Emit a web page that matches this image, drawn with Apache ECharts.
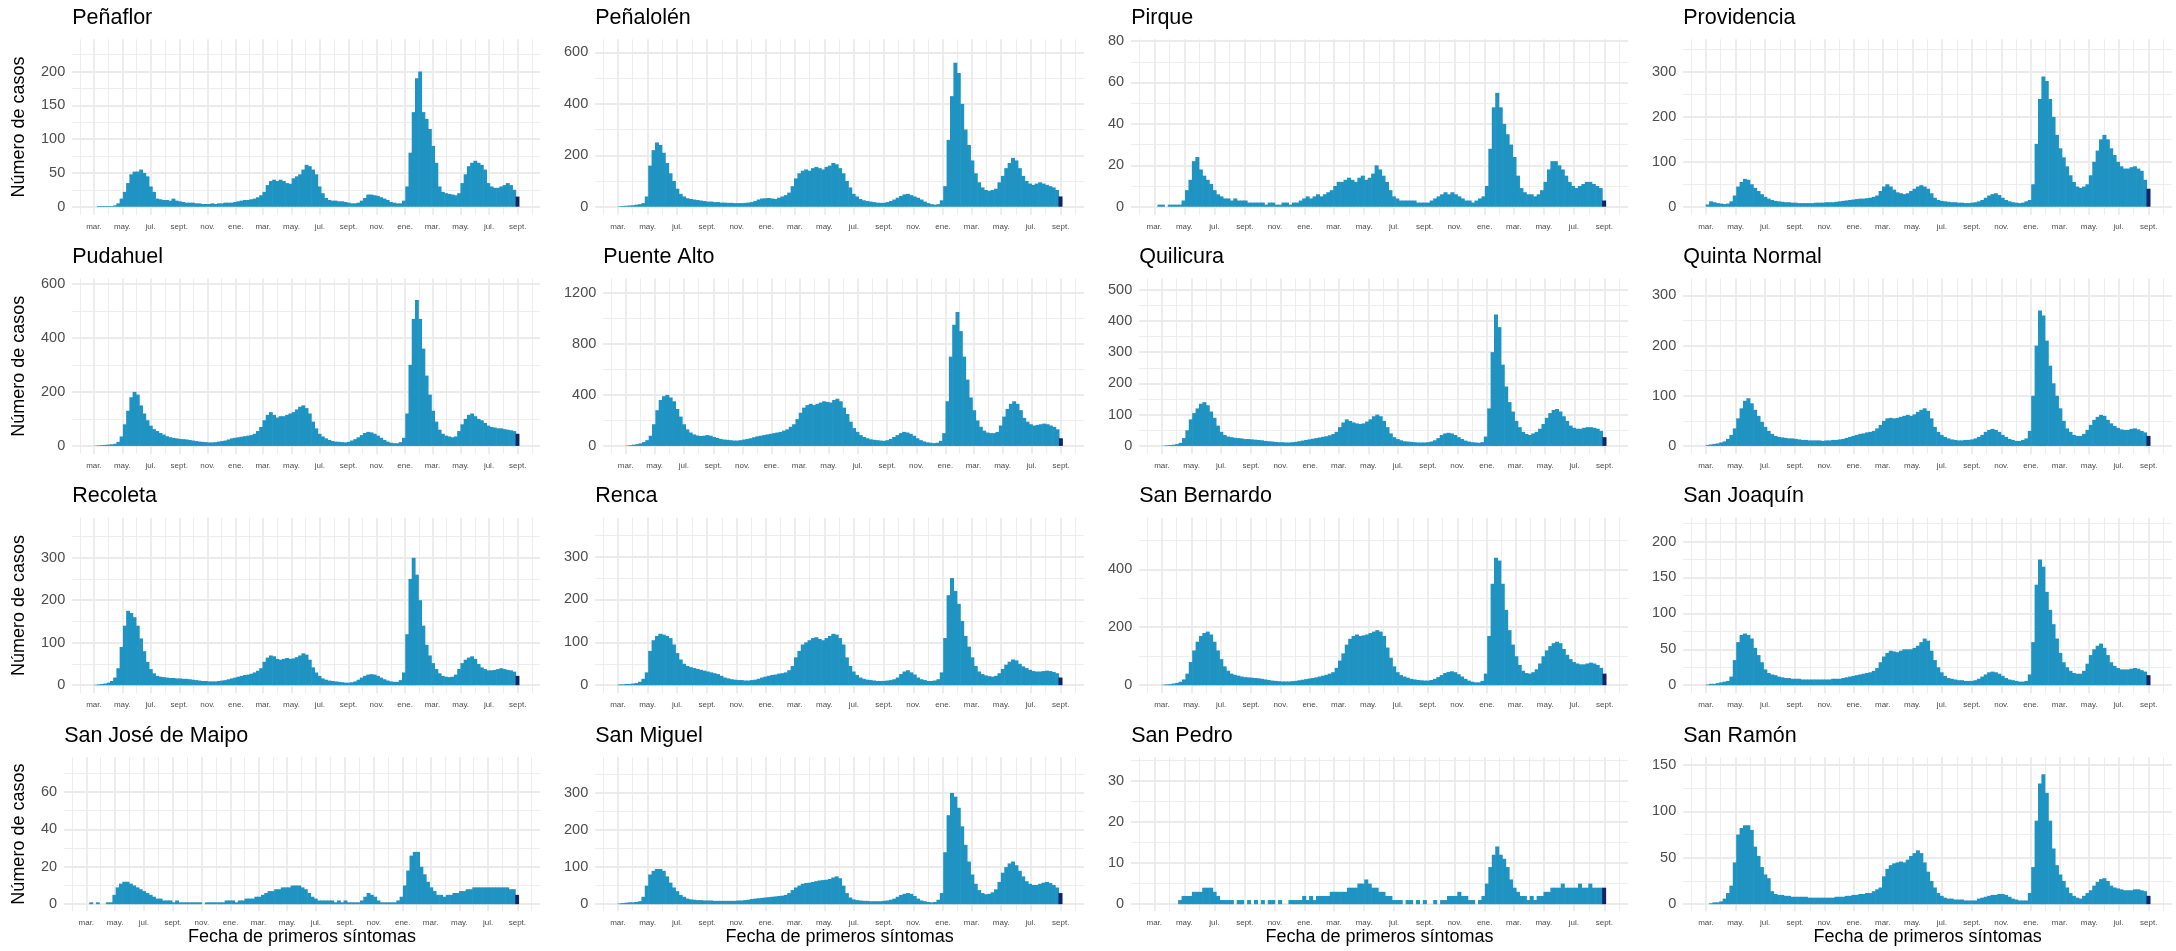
<!DOCTYPE html>
<html><head><meta charset="utf-8">
<script src="https://cdn.jsdelivr.net/npm/echarts@6/dist/echarts.min.js"></script>
<style>html,body{margin:0;padding:0;background:#fff}#c{width:2176px;height:951px}</style>
</head><body><div id="c"></div>
<script>
// ---------- categories & labels ----------
const COMMUNES = ['Peñaflor','Peñalolén','Pirque','Providencia','Pudahuel','Puente Alto','Quilicura','Quinta Normal','Recoleta','Renca','San Bernardo','San Joaquín','San José de Maipo','San Miguel','San Pedro','San Ramón'];
const FIRST_WEEK = '2020-03-01';           // weekly bins start here (7-day bins)
const X_RANGE = ['2020-01-14', '2022-10-19'];
const TICK_DATES = ['2020-01-01','2020-03-01','2020-05-01','2020-07-01','2020-09-01','2020-11-01','2021-01-01','2021-03-01','2021-05-01','2021-07-01','2021-09-01','2021-11-01','2022-01-01','2022-03-01','2022-05-01','2022-07-01','2022-09-01','2022-11-01'];
const MONTH_LABELS = ['ene.','feb.','mar.','abr.','may.','jun.','jul.','ago.','sept.','oct.','nov.','dic.'];
const DAILY_PEAKS = [236,620,77,355,590,1250,510,318,375,372,550,222,75,378,34,151];
const Y_STEPS = [50,200,20,100,200,400,100,100,100,100,200,50,20,100,10,50];
const Y_TITLE = 'Número de casos';
const X_TITLE = 'Fecha de primeros síntomas';

// ---------- weekly case counts ----------
const penaflor = [0,1,1,1,1,1,2,5,12,22, 35,48,52,52,55,50,45,30,22,12, 11,10,10,9,12,9,8,7,6,6, 6,5,5,4,4,4,5,4,5,5, 6,6,6,7,8,9,10,10,11,12, 14,17,22,32,38,40,38,40,38,35, 34,42,45,48,55,62,60,55,48,30, 20,13,10,9,9,8,8,7,6,5, 5,6,9,13,18,18,17,16,14,12, 10,7,6,5,5,9,30,80,140,190, 200,140,130,115,90,65,30,22,20,19, 18,17,20,35,48,60,65,68,65,62, 55,35,30,28,28,30,32,35,32,25, 15];
const penalolen = [2,3,4,5,6,8,10,14,40,160, 220,250,240,210,170,130,100,70,50,40, 33,30,28,26,24,22,20,20,18,18, 16,16,15,15,14,14,14,15,16,18, 22,28,32,33,34,32,30,35,40,45, 55,80,110,130,140,145,140,150,155,150, 145,155,160,170,165,150,130,100,75,50, 40,30,25,22,20,18,16,15,15,18, 22,28,35,42,48,50,45,40,35,28, 20,14,10,8,10,25,80,260,430,560, 520,400,300,240,180,130,95,75,65,62, 65,70,95,120,150,170,190,180,150,120, 100,90,85,90,95,90,85,80,75,65, 40];
const pirque = [0,1,1,0,1,1,1,1,3,8, 13,22,24,18,15,13,11,8,6,5, 4,4,3,4,3,3,3,2,2,2, 2,2,1,2,2,1,1,2,2,1, 2,2,3,4,5,4,5,6,5,6, 7,8,10,12,12,13,14,13,12,14, 15,13,14,16,20,18,15,12,8,5, 4,3,3,3,3,3,2,2,2,2, 3,4,5,6,7,6,7,6,5,4, 3,3,2,3,4,5,10,28,48,55, 48,40,35,30,24,15,9,7,6,6, 5,6,8,12,18,22,22,20,18,15, 12,10,9,10,11,12,12,11,10,9, 3];
const providencia = [5,12,10,8,7,6,7,12,25,45, 55,62,60,50,42,35,28,22,18,15, 13,12,11,10,10,9,9,8,8,8, 8,8,9,9,9,10,10,10,11,12, 13,14,15,16,17,18,18,19,20,22, 25,35,45,50,45,38,32,30,28,30, 35,40,45,48,45,40,30,20,15,13, 12,11,10,10,9,9,8,8,9,10, 12,15,20,25,28,30,26,20,15,12, 10,9,8,9,12,15,50,140,240,290, 280,240,200,160,130,110,90,70,55,45, 42,45,50,70,100,125,150,160,150,130, 115,100,90,85,85,88,90,85,80,60, 40];
const pudahuel = [1,2,3,4,5,6,8,15,35,80, 130,180,200,190,150,120,95,75,62,55, 48,42,36,32,30,28,26,25,24,22, 20,18,16,15,14,13,13,14,16,18, 20,24,28,30,32,34,36,38,40,45, 55,70,95,115,125,115,105,110,110,115, 120,125,135,145,150,140,120,90,65,45, 35,28,22,18,16,15,14,13,15,20, 25,32,40,48,52,50,45,38,30,22, 16,12,10,10,14,30,120,300,470,540, 470,360,260,190,130,90,60,45,38,35, 32,35,55,80,100,115,120,110,100,95, 85,75,70,68,65,65,62,60,58,55, 45];
const puenteAlto = [3,6,10,14,20,30,45,80,170,280, 360,390,400,380,350,290,230,170,130,105, 90,82,78,80,85,80,70,62,55,50, 48,45,42,42,45,50,55,60,68,75, 80,85,90,95,100,105,110,120,130,150, 170,210,260,300,320,330,320,330,340,350, 345,340,360,370,350,300,250,190,140,110, 85,70,60,52,48,45,42,40,45,55, 70,85,100,110,105,95,80,60,45,35, 28,25,22,25,40,100,350,700,950,1050, 900,700,520,380,280,200,150,120,105,100, 100,110,160,230,290,330,350,330,280,220, 190,170,160,165,170,175,170,160,150,130, 60];
const quilicura = [1,2,3,4,6,10,25,50,85,105, 120,135,140,130,110,90,65,45,35,30, 28,26,25,24,22,22,21,20,19,18, 16,15,14,13,12,12,11,11,12,13, 15,17,19,21,23,25,27,29,31,34, 38,45,60,75,85,80,75,72,70,72, 78,85,95,100,95,80,60,40,28,22, 18,15,14,13,12,11,11,11,12,14, 18,25,35,40,42,40,35,28,22,17, 14,12,11,10,12,30,120,300,420,380, 260,190,140,110,80,60,45,38,35,40, 45,55,70,90,105,115,118,110,95,80, 65,58,55,55,58,60,60,58,55,48, 28];
const quintaNormal = [2,3,4,5,7,9,14,22,35,55, 75,90,95,85,72,60,48,38,30,24, 20,18,17,16,15,15,14,13,12,12, 11,11,11,11,10,11,11,12,12,13, 14,16,18,20,22,24,25,27,28,30, 35,42,50,55,56,55,56,58,60,62, 60,63,68,72,75,70,55,38,28,22, 18,15,13,12,11,11,12,12,13,15, 18,22,28,32,34,32,28,22,18,14, 12,10,10,12,15,30,100,200,270,260, 210,160,125,100,75,50,35,28,22,20, 20,24,32,42,52,58,62,60,52,45, 40,36,33,32,32,34,35,33,30,27, 20];
const recoleta = [1,2,3,4,6,10,18,40,90,140, 175,170,160,140,110,80,55,38,28,22, 20,19,18,17,17,16,16,15,15,14, 13,12,11,10,10,9,9,9,10,11, 12,14,16,18,20,22,24,25,27,30, 34,40,55,65,70,68,62,60,62,64, 62,63,66,70,75,72,60,42,30,22, 16,13,11,10,9,8,7,6,6,7, 9,13,18,22,25,26,25,22,18,14, 11,9,8,8,12,30,120,250,300,260, 200,140,95,70,52,38,28,22,20,19, 20,25,38,52,60,65,68,62,50,42, 38,35,35,36,38,40,38,36,35,32, 22];
const renca = [2,2,3,3,4,5,8,15,30,80, 105,115,120,118,115,110,95,75,60,50, 45,42,40,38,36,34,32,30,28,26, 22,18,16,14,13,12,12,11,11,12, 13,15,18,20,22,24,25,27,28,30, 35,45,65,80,95,100,105,110,112,108, 105,110,115,120,118,110,95,65,45,32, 24,18,15,13,12,11,10,10,10,11, 12,14,18,26,32,35,30,25,18,14, 12,10,10,11,14,30,110,210,250,220, 190,150,115,90,65,45,32,26,23,21, 20,22,28,38,48,55,60,58,50,44, 40,36,33,32,32,33,34,33,31,28, 18];
const sanBernardo = [2,3,4,6,8,12,20,40,80,120, 150,170,180,185,175,150,120,90,65,50, 40,36,33,30,28,27,26,25,24,22, 20,18,16,15,14,13,13,13,14,15, 17,19,21,23,25,27,30,33,36,40, 45,60,85,110,140,160,170,175,170,172, 175,180,185,190,185,170,130,95,65,45, 35,30,26,22,20,18,17,16,16,18, 22,28,35,42,46,48,45,38,30,22, 16,12,10,10,15,40,170,350,440,430, 350,260,190,140,100,70,50,42,40,45, 55,75,100,120,135,145,150,145,125,105, 90,80,75,72,72,75,78,75,70,60, 40];
const sanJoaquin = [1,2,2,3,4,5,6,12,35,60, 70,72,70,65,52,42,32,22,17,15, 14,12,11,10,10,9,9,9,8,8, 8,8,8,8,8,8,8,9,9,9, 10,11,12,13,14,15,16,17,18,20, 24,32,40,45,48,47,46,48,50,50, 50,52,55,60,65,62,48,35,25,18, 13,10,9,8,7,7,6,6,6,7, 9,12,15,18,19,18,16,13,10,8, 7,6,5,5,6,15,60,140,175,165, 130,105,85,65,45,32,25,20,17,16, 16,20,30,42,50,55,58,52,42,32, 27,24,22,22,22,23,24,23,21,19, 14];
const sanJoseDeMaipo = [0,1,0,1,0,0,1,1,5,9, 11,12,12,11,10,9,8,7,6,5, 4,3,3,2,2,2,1,2,1,1, 1,1,1,1,1,0,1,1,1,1, 1,1,2,2,2,1,2,2,3,3, 3,4,4,5,6,7,7,8,8,9, 9,9,10,10,10,9,8,6,4,3, 2,2,2,2,2,1,2,1,2,1, 1,1,1,2,4,6,5,4,2,1, 1,1,1,1,2,4,10,18,26,28, 28,20,16,12,9,7,5,5,4,5, 5,6,6,7,7,8,8,9,9,9, 9,9,9,9,9,9,9,9,8,8, 5];
const sanMiguel = [2,3,4,5,5,6,8,20,50,80, 90,95,95,90,75,58,45,35,25,20, 15,13,12,11,11,10,10,10,9,9, 9,9,9,9,9,10,10,11,12,14, 15,16,17,18,19,20,21,22,23,25, 30,38,45,50,55,57,58,60,62,64, 65,66,68,72,75,70,50,30,18,13, 11,10,9,9,8,8,8,8,9,10, 12,15,20,25,28,30,28,22,15,10, 8,6,5,6,12,30,140,240,300,290, 260,210,160,115,80,55,38,30,27,28, 32,40,60,85,100,110,115,105,90,75, 62,55,52,52,55,58,60,57,52,45, 30];
const sanPedro = [0,0,0,0,0,0,0,1,2,2, 2,3,3,3,4,4,4,3,2,1, 1,1,1,0,1,1,0,1,0,1, 0,1,0,1,1,0,1,0,0,1, 1,1,1,2,1,2,1,2,2,2, 2,3,3,3,3,3,4,4,4,5, 5,6,5,4,4,3,3,2,2,1, 1,1,0,1,1,0,1,0,1,0, 0,1,0,1,1,2,2,2,3,2, 2,1,1,0,1,2,5,9,12,14, 12,11,9,6,4,3,2,2,1,2, 1,2,2,3,3,4,4,4,5,4, 4,4,4,5,4,4,5,4,4,4, 4];
const sanRamon = [0,1,2,2,3,6,12,20,45,75, 82,85,85,80,62,52,40,32,28,14, 11,10,10,9,9,8,8,8,8,8, 7,7,7,7,7,7,7,7,8,8, 8,9,9,10,10,11,11,12,12,14, 16,18,30,38,42,44,45,46,45,48, 52,55,58,55,45,35,25,18,12,9, 7,6,6,5,5,5,4,4,4,4, 6,7,8,9,10,10,11,11,10,8, 6,5,4,4,4,12,40,90,130,140, 120,90,60,42,32,25,18,12,9,7, 6,9,12,15,20,24,27,28,25,20, 18,17,16,15,15,15,16,16,15,14, 9];

const SERIES_DATA = [penaflor, penalolen, pirque, providencia, pudahuel, puenteAlto, quilicura, quintaNormal, recoleta, renca, sanBernardo, sanJoaquin, sanJoseDeMaipo, sanMiguel, sanPedro, sanRamon];

// ---------- styling & layout ----------
const FONT = '"Liberation Sans", Arial, Helvetica, sans-serif';
const BLUE = '#1F93C1', NAVY = '#0D2466', GRID = '#EBEBEB', AXIS_TXT = '#4D4D4D';
const CELL = 544;
const ROW_TOP = [39.3, 278.5, 517.8, 757];
const ROW_H = [175.4, 175.4, 175.4, 154.2];
const DAY = 86400000;
const ts = s => Date.parse(s + 'T00:00:00Z');

const xMin = ts(X_RANGE[0]), xMax = ts(X_RANGE[1]);
const majorX = TICK_DATES.map(ts);
const minorX = [];
for (let i = 0; i < majorX.length - 1; i++) minorX.push((majorX[i] + majorX[i + 1]) / 2);
const week0 = ts(FIRST_WEEK);

const ctx = document.createElement('canvas').getContext('2d');
ctx.font = '14.5px ' + FONT;

const grids = [], xAxes = [], yAxes = [], series = [], titles = [], graphics = [];
const panelGeom = [];

COMMUNES.forEach((name, k) => {
  const r = Math.floor(k / 4), c = k % 4;
  const peak = DAILY_PEAKS[k], step = Y_STEPS[k];
  const yMin = -0.05 * peak, yMax = 1.05 * peak;
  const majorY = [], minorY = [];
  for (let v = 0; v <= yMax + 1e-9; v += step) majorY.push(v);
  for (let v = step / 2; v <= yMax + 1e-9; v += step) minorY.push(v);
  const labelW = Math.max(...majorY.map(v => ctx.measureText(String(v)).width));
  const left = c * CELL + 27 + labelW + (c === 0 ? 21 : 0);
  const right = (c + 1) * CELL - 4;
  const width = right - left;
  panelGeom.push({left, width});
  grids.push({left, top: ROW_TOP[r], width, height: ROW_H[r], containLabel: false, outerBoundsMode: 'none'});

  xAxes.push({
    gridIndex: k, type: 'value', min: xMin, max: xMax, position: 'bottom',
    axisLine: {show: false, onZero: false}, axisTick: {show: false, customValues: majorX},
    axisLabel: {customValues: majorX, formatter: v => MONTH_LABELS[new Date(v).getUTCMonth()],
      fontSize: 8, color: AXIS_TXT, margin: 8, fontFamily: FONT, hideOverlap: false},
    splitLine: {show: true, lineStyle: {color: GRID, width: 1.8}}
  });
  xAxes.push({
    gridIndex: k, type: 'value', min: xMin, max: xMax, position: 'top',
    axisLine: {show: false, onZero: false}, axisTick: {show: false, customValues: minorX},
    axisLabel: {show: false, customValues: minorX},
    splitLine: {show: true, lineStyle: {color: GRID, width: 0.9}}
  });
  yAxes.push({
    gridIndex: k, type: 'value', min: yMin, max: yMax, position: 'left',
    axisLine: {show: false, onZero: false}, axisTick: {show: false, customValues: majorY},
    axisLabel: {customValues: majorY, formatter: v => String(Math.round(v)), fontSize: 14.5, color: AXIS_TXT, margin: 7, fontFamily: FONT},
    splitLine: {show: true, lineStyle: {color: GRID, width: 1.8}}
  });
  yAxes.push({
    gridIndex: k, type: 'value', min: yMin, max: yMax, position: 'right',
    axisLine: {show: false, onZero: false}, axisTick: {show: false, customValues: minorY},
    axisLabel: {show: false, customValues: minorY},
    splitLine: {show: true, lineStyle: {color: GRID, width: 0.9}}
  });

  const vals = SERIES_DATA[k];
  const last = vals.length - 1;
  const barPx = width * 7 * DAY / (xMax - xMin) + 0.6;
  series.push({
    type: 'bar', xAxisIndex: 2 * k, yAxisIndex: 2 * k, barWidth: barPx,
    itemStyle: {color: BLUE}, silent: true,
    data: vals.map((v, i) => {
      const item = {value: [week0 + (7 * i + 3.5) * DAY, v]};
      if (i === last) item.itemStyle = {color: NAVY};
      return item;
    })
  });

  titles.push({
    text: name, left: left, top: ROW_TOP[r] - 21.4 - 13, padding: 0,
    textStyle: {fontSize: 21.5, fontWeight: 'normal', color: '#000', fontFamily: FONT, lineHeight: 26}
  });
});

for (let r = 0; r < 4; r++) {
  graphics.push({type: 'text', x: 19, y: ROW_TOP[r] + ROW_H[r] / 2, rotation: Math.PI / 2,
    style: {text: Y_TITLE, font: '18px ' + FONT, fill: '#000', align: 'center', verticalAlign: 'middle'}});
}
for (let c = 0; c < 4; c++) {
  const g = panelGeom[12 + c];
  graphics.push({type: 'text', x: g.left + g.width / 2, y: 937,
    style: {text: X_TITLE, font: '18px ' + FONT, fill: '#000', align: 'center', verticalAlign: 'middle'}});
}

const chart = echarts.init(document.getElementById('c'), null, {renderer: 'canvas', width: 2176, height: 951});
chart.setOption({
  animation: false, backgroundColor: '#fff',
  title: titles, grid: grids, xAxis: xAxes, yAxis: yAxes, series: series, graphic: graphics
});
</script>
</body></html>
